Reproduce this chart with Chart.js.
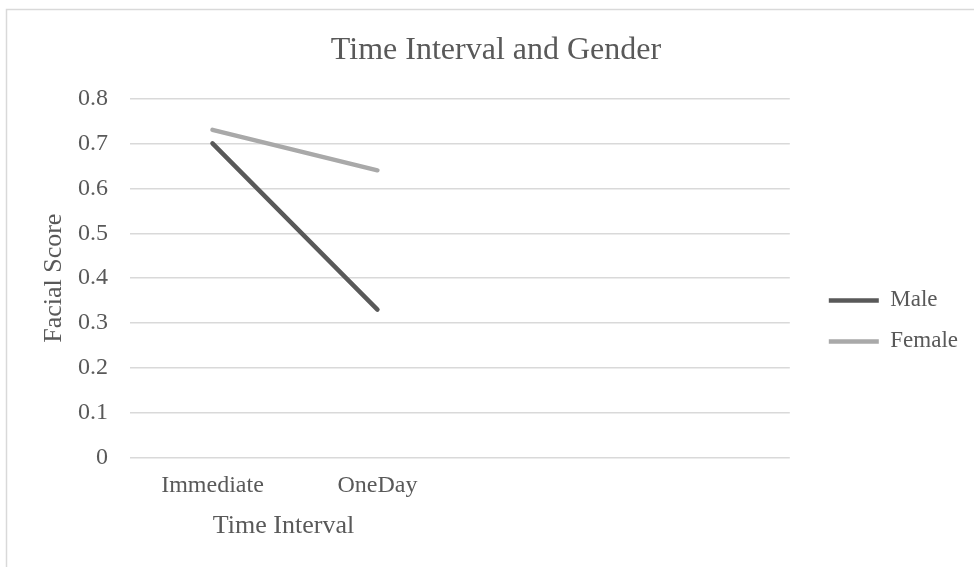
<!DOCTYPE html>
<html>
<head>
<meta charset="utf-8">
<script src="https://cdn.jsdelivr.net/npm/chart.js@4/dist/chart.umd.min.js"></script>
<style>
  html, body { margin: 0; padding: 0; background: #ffffff; }
  #wrap { width: 974px; height: 567px; position: relative; }
</style>
</head>
<body>
<div id="wrap"><canvas id="c" width="974" height="567"></canvas></div>
<script>
// ---- data ----
const chartTitle = 'Time Interval and Gender';
const xAxisTitle = 'Time Interval';
const yAxisTitle = 'Facial Score';
const categories = ['Immediate', 'OneDay', '', ''];
const seriesNames = ['Male', 'Female'];
const maleScores = [0.70, 0.33];
const femaleScores = [0.73, 0.64];
const yMin = 0;
const yMax = 0.8;
const yStep = 0.1;

// ---- styling ----
const FONT = '"Liberation Serif", "Times New Roman", serif';
const TEXT = '#595959';

const borderPlugin = {
  id: 'chartBorder',
  beforeDraw(chart) {
    const ctx = chart.ctx;
    ctx.save();
    ctx.strokeStyle = '#d9d9d9';
    ctx.lineWidth = 1.5;
    ctx.strokeRect(6.5, 9.5, chart.width + 20, chart.height + 20);
    ctx.restore();
  }
};

const placePlugin = {
  id: 'place',
  afterLayout(chart) {
    const ca = chart.chartArea;
    const lg = chart.legend;
    if (lg) {
      const pad = lg.options.labels.padding;
      const w = lg.width, h = lg.height;
      lg.left = ca.right + 39 - pad; lg.right = lg.left + w;
      lg.top = ca.top + 202 - 11.5 - pad; lg.bottom = lg.top + h;
    }
    const tb = chart.titleBlock;
    if (tb) { tb.left += 5; tb.right += 5; }
  },
  afterDraw(chart) {
    const ctx = chart.ctx, ca = chart.chartArea;
    ctx.save();
    ctx.font = '26px ' + FONT;
    ctx.fillStyle = TEXT;
    ctx.textAlign = 'center';
    ctx.textBaseline = 'middle';
    ctx.fillText(xAxisTitle, ca.left + 153.5, ca.bottom + 68.2);
    ctx.restore();
  }
};

new Chart(document.getElementById('c'), {
  type: 'line',
  data: {
    labels: categories,
    datasets: [
      {
        label: seriesNames[0],
        data: maleScores,
        borderColor: '#595959',
        backgroundColor: '#595959',
        borderWidth: 4.5,
        borderCapStyle: 'round',
        borderJoinStyle: 'round',
        pointRadius: 0,
        pointHoverRadius: 0,
        tension: 0,
        fill: false
      },
      {
        label: seriesNames[1],
        data: femaleScores,
        borderColor: '#a9a9a9',
        backgroundColor: '#a9a9a9',
        borderWidth: 4.5,
        borderCapStyle: 'round',
        borderJoinStyle: 'round',
        pointRadius: 0,
        pointHoverRadius: 0,
        tension: 0,
        fill: false
      }
    ]
  },
  options: {
    responsive: false,
    animation: false,
    events: [],
    layout: { padding: { left: 35, right: 27, top: 10, bottom: 53 } },
    plugins: {
      title: {
        display: true,
        text: chartTitle,
        color: TEXT,
        font: { family: FONT, size: 32, weight: 'normal' },
        padding: { top: 21, bottom: 29 }
      },
      legend: {
        display: true,
        position: 'right',
        align: 'start',
        labels: {
          color: TEXT,
          font: { family: FONT, size: 23 },
          usePointStyle: true,
          pointStyle: 'line',
          pointStyleWidth: 50,
          padding: 18
        }
      },
      tooltip: { enabled: false }
    },
    scales: {
      x: {
        type: 'category',
        offset: true,
        grid: { display: false, drawTicks: false },
        border: { display: false },
        ticks: {
          color: TEXT,
          font: { family: FONT, size: 24 },
          padding: 13.6,
          maxRotation: 0,
          autoSkip: false
        },
        title: { display: false }
      },
      y: {
        min: yMin,
        max: yMax,
        afterFit(scale) { scale.width = 95; },
        grid: { color: '#d9d9d9', lineWidth: 1.5, drawTicks: false },
        border: { display: false },
        ticks: {
          stepSize: yStep,
          color: TEXT,
          font: { family: FONT, size: 24 },
          padding: 22
        },
        title: {
          display: true,
          text: yAxisTitle,
          color: TEXT,
          font: { family: FONT, size: 26 },
          padding: { top: 4, bottom: 0 }
        }
      }
    }
  },
  plugins: [borderPlugin, placePlugin]
});
</script>
</body>
</html>
